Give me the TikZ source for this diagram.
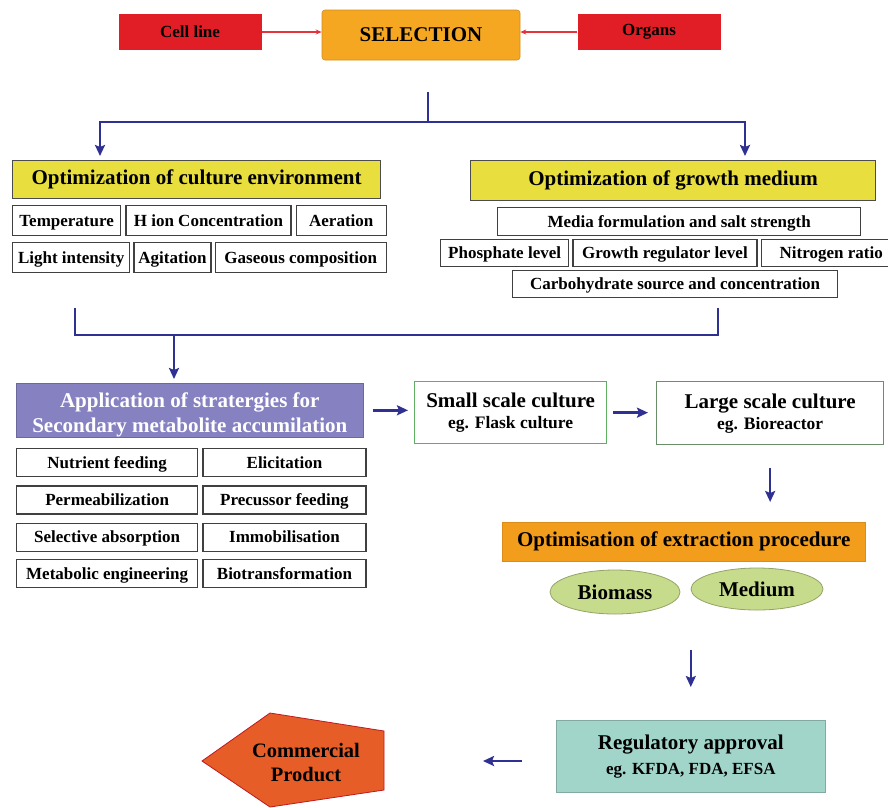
\documentclass[tikz,border=0pt]{standalone}
\usepackage{fontspec}
\setmainfont{Liberation Serif}
\usetikzlibrary{arrows.meta, positioning, calc, shapes.geometric}

\definecolor{merah}{HTML}{E11D25}
\definecolor{jingga}{HTML}{F5A722}
\definecolor{kuning}{HTML}{E8DF3E}
\definecolor{ungu}{HTML}{8682C2}
\definecolor{biru}{HTML}{2F3192}
\definecolor{hijau}{HTML}{5FAF62}
\definecolor{hijaugelap}{HTML}{6B8E6B}
\definecolor{oranye}{HTML}{F39D1C}
\definecolor{daun}{HTML}{C6DB8B}
\definecolor{toska}{HTML}{A2D5CA}
\definecolor{bata}{HTML}{E65D27}

\begin{document}
\begin{tikzpicture}[
    x=1pt, y=-1pt,
    node distance=4pt and 4pt,
    sumber/.style={fill=merah, minimum width=143pt, minimum height=36pt,
                   font=\fontsize{17}{19}\selectfont\bfseries},
    judul/.style={draw=black!70, line width=1.2pt, fill=kuning, minimum height=38pt,
                  anchor=north west, font=\fontsize{21}{24}\selectfont\bfseries},
    faktor/.style={draw=black!75, line width=1.3pt, fill=white, minimum height=28pt,
                   inner sep=0pt, text height=13pt, text depth=2pt,
                   font=\fontsize{17}{19}\selectfont\bfseries},
    kultur/.style={draw=hijau, line width=1.3pt, fill=white, minimum height=62pt,
                   anchor=north west, align=center, font=\fontsize{21}{23}\selectfont\bfseries},
    bagian/.style={ellipse, draw=daun!75!black, line width=0.8pt, fill=daun,
                   font=\fontsize{21}{23}\selectfont\bfseries},
    alur/.style={-{Stealth[length=11pt, width=10pt, inset=2pt]}, draw=biru, line width=2.4pt},
    garis/.style={draw=biru, line width=2.4pt},
    alurmerah/.style={-{Stealth[length=6pt, width=5pt]}, draw=merah!90, line width=1.2pt}
  ]
    \useasboundingbox (0,0) rectangle (888,807);

    % sumber bahan
    \node[sumber] (cell) at (190,32) {Cell line};
    \node[fill=jingga, draw=jingga!85!black, line width=0.6pt, rounded corners=3pt,
          minimum width=198pt, minimum height=50pt,
          font=\fontsize{21}{24}\selectfont\bfseries] (sel) at (421,35) {SELECTION};
    \node[sumber] (organ) at (649,32) {Organs};
    \draw[alurmerah] (cell.east) -- (cell.east -| sel.west);
    \draw[alurmerah] (organ.west) -- (organ.west -| sel.east);

    % optimasi lingkungan dan medium
    \node[judul, minimum width=368pt] (env) at (12,160) {Optimization of culture environment};
    \node[judul, minimum width=405pt, minimum height=40pt] (med) at (470,160) {Optimization of growth medium};

    \coordinate (cabang) at (428,92);
    \coordinate (simpul) at (428,122);
    \draw[garis] (cabang) -- (simpul);
    \draw[alur, shorten >=4pt] (simpul) -| ([xshift=88pt]env.north west);
    \draw[alur, shorten >=4pt] (simpul) -| ([xshift=275pt]med.north west);

    \node[faktor, minimum width=108pt, minimum height=30pt, anchor=north west] (temp) at (12,205) {Temperature};
    \node[faktor, minimum width=165pt, minimum height=30pt, right=of temp] (hion) {H ion Concentration};
    \node[faktor, minimum width=90pt, minimum height=30pt, right=of hion] (aer) {Aeration};
    \node[faktor, minimum width=117pt, minimum height=30pt, anchor=north west] (light) at (12,242) {Light intensity};
    \node[faktor, minimum width=77pt, minimum height=30pt, right=3pt of light] (agit) {Agitation};
    \node[faktor, minimum width=171pt, minimum height=30pt, right=3pt of agit] (gas) {Gaseous composition};

    \node[faktor, minimum width=363pt, anchor=north west] (media) at (497,207) {Media formulation and salt strength};
    \node[faktor, minimum width=128pt, minimum height=27pt, anchor=north west] (phos) at (440,239) {Phosphate level};
    \node[faktor, minimum width=184pt, minimum height=27pt, right=3pt of phos] (growth) {Growth regulator level};
    \node[faktor, minimum width=140pt, minimum height=27pt, right=3pt of growth] (nitro) {Nitrogen ratio};
    \node[faktor, minimum width=325pt, minimum height=27pt, anchor=north west] (carb) at (512,270) {Carbohydrate source and concentration};

    % strategi akumulasi
    \node[fill=ungu, draw=ungu!80!black, line width=0.6pt, minimum width=347pt, minimum height=54pt,
          anchor=north west, align=center, text=white, text height=49pt, inner ysep=0pt,
          font=\fontsize{21}{25}\selectfont\bfseries] (app) at (16,383)
          {Application of stratergies for\\Secondary metabolite accumilation};

    \coordinate (kiri) at (75,308);
    \coordinate (kanan) at (718,308);
    \coordinate (gabung) at (174,335);
    \draw[garis] (kiri) -- (kiri |- gabung) -| (kanan);
    \draw[alur, shorten >=4pt] (gabung) -- (gabung |- app.north);

    \node[faktor, minimum width=181pt, anchor=north west] (nutr) at (16,448) {Nutrient feeding};
    \node[faktor, minimum width=181pt, below=8pt of nutr] (perm) {Permeabilization};
    \node[faktor, minimum width=181pt, below=8pt of perm] (selab) {Selective absorption};
    \node[faktor, minimum width=181pt, below=7pt of selab] (meta) {Metabolic engineering};
    \node[faktor, minimum width=163pt, right=4pt of nutr] (elic) {Elicitation};
    \node[faktor, minimum width=163pt, right=4pt of perm] (prec) {Precussor feeding};
    \node[faktor, minimum width=163pt, right=4pt of selab] (immo) {Immobilisation};
    \node[faktor, minimum width=163pt, right=4pt of meta] (biot) {Biotransformation};

    % skala kultur
    \node[kultur, minimum width=192pt] (small) at (414,381)
          {Small scale culture\\[-2pt]{\fontsize{17.5}{20}\selectfont eg. Flask culture}};
    \node[kultur, draw=hijaugelap, minimum width=227pt, minimum height=63pt] (large) at (656,381)
          {Large scale culture\\[-2pt]{\fontsize{17.5}{20}\selectfont eg. Bioreactor}};
    \draw[alur, shorten <=9pt, shorten >=6pt] (app.east) -- (app.east -| small.west);
    \draw[alur, shorten <=6pt, shorten >=8pt] (small.east) -- (small.east -| large.west);

    % ekstraksi
    \node[fill=oranye, draw=oranye!90!black, line width=0.5pt, minimum width=363pt, minimum height=39pt,
          anchor=north west, font=\fontsize{21}{23}\selectfont\bfseries] (ext) at (502,522)
          {Optimisation of extraction procedure};
    \draw[alur, shorten <=23pt, shorten >=20pt] (large.south) -- (large.south |- ext.north);

    \node[bagian, minimum width=130pt, minimum height=44pt] (bio) at (615,592) {Biomass};
    \node[bagian, minimum width=132pt, minimum height=42pt] (medium) at (757,589) {Medium};

    % persetujuan dan produk
    \node[fill=toska, draw=toska!80!black, line width=0.6pt, minimum width=269pt, minimum height=72pt,
          anchor=north west, align=center, font=\fontsize{21}{23}\selectfont\bfseries] (reg) at (556,720)
          {Regulatory approval\\[2pt]{\fontsize{17}{20}\selectfont eg. KFDA, FDA, EFSA}};
    \draw[alur, shorten <=36pt, shorten >=33pt] (reg.north |- bio.south) -- (reg.north);

    \draw[fill=bata, draw=merah!85!black, line width=0.8pt]
        (202,761) -- (270,713) -- (384,731) -- (384,790) -- (270,807) -- cycle;
    \coordinate (ujung) at (384,761);
    \node[align=center, font=\fontsize{20.5}{24}\selectfont\bfseries] (prod) at (306,762) {Commercial\\Product};
    \draw[alur, shorten <=34pt, shorten >=99pt] (reg.west |- ujung) -- (ujung);
\end{tikzpicture}
\end{document}
